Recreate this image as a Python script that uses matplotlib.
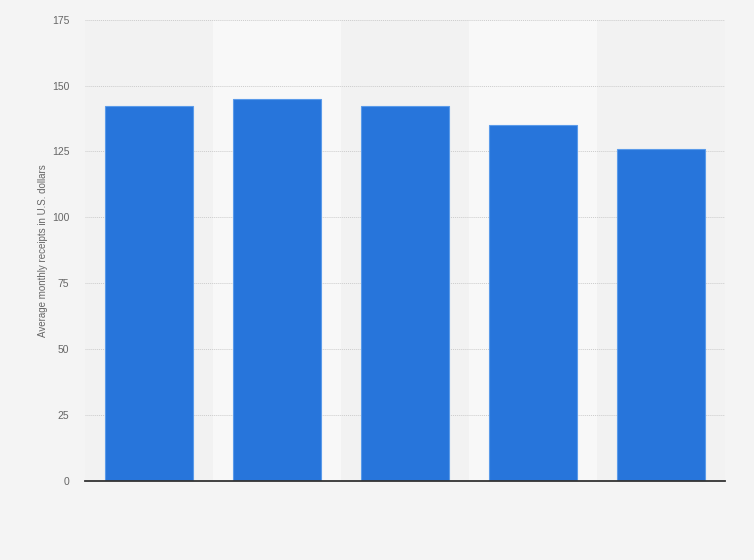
import numpy as np
import matplotlib.pyplot as plt

plt.rcParams['font.family'] = ['Liberation Sans', 'DejaVu Sans']

# Bar values (no category labels shown)
categories = ['1', '2', '3', '4', '5']
values = [142.3, 145.0, 142.3, 135.1, 125.9]
y_ticks = [0, 25, 50, 75, 100, 125, 150, 175]

fig = plt.figure(figsize=(7.54, 5.6), dpi=100, facecolor='#f4f4f4')
ax = fig.add_axes([0.1122, 0.141, 0.8488, 0.824])
ax.set_facecolor('#f2f2f2')

x = np.arange(len(categories))

# alternating background bands
for i in x:
    if i % 2 == 1:
        ax.axvspan(i - 0.5, i + 0.5, color='#f8f8f8', zorder=0, lw=0)

ax.bar(x, values, width=0.687, color='#2775db', edgecolor='#5b9bea', linewidth=0.8, zorder=3)

ax.set_xlim(-0.5, len(categories) - 0.5)
ax.set_ylim(0, 175)
ax.set_yticks(y_ticks)
ax.set_xticks([])
ax.yaxis.grid(True, color='#cccccc', linestyle=(0, (1, 1)), linewidth=0.7, zorder=1)
ax.tick_params(axis='y', length=0, pad=11, labelsize=7.5, labelcolor='#666666')

for s in ['top', 'right', 'left']:
    ax.spines[s].set_visible(False)
ax.spines['bottom'].set_color('#333333')
ax.spines['bottom'].set_linewidth(1.3)
ax.spines['bottom'].set_zorder(4)

ax.set_ylabel('Average monthly receipts in U.S. dollars', fontsize=7, color='#666666', labelpad=3)

fig.savefig('out.png', dpi=100, facecolor=fig.get_facecolor())
